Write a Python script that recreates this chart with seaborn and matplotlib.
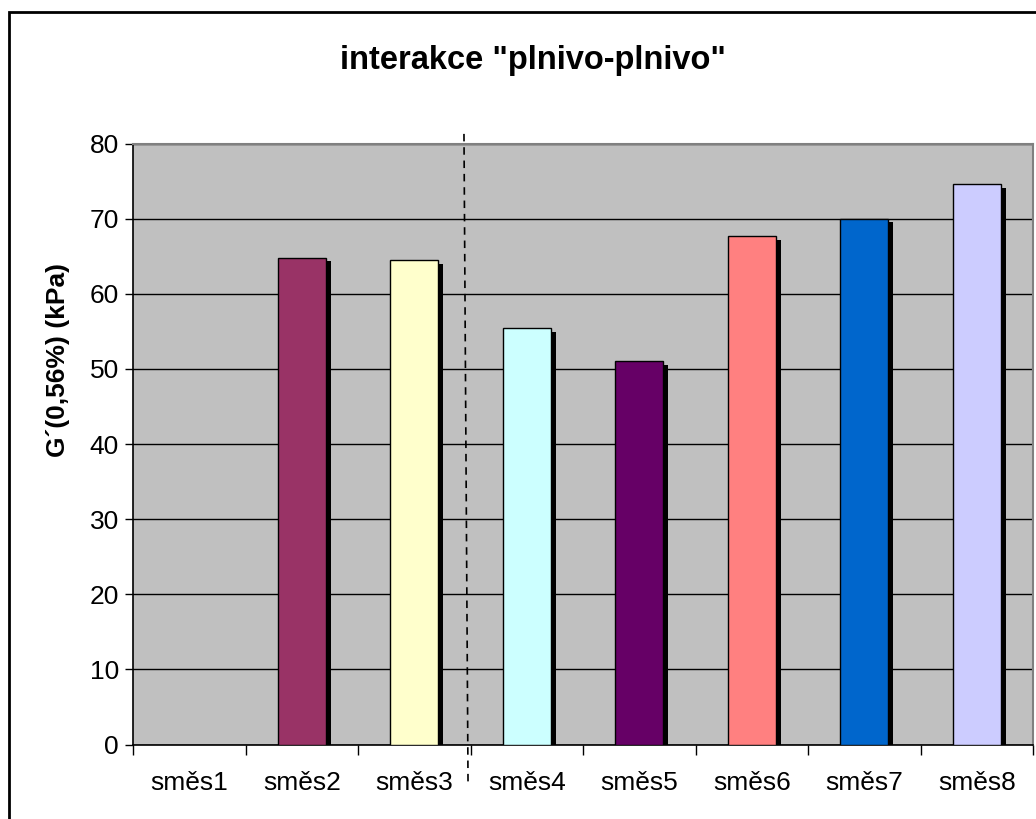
import numpy as np
import pandas as pd
import matplotlib
matplotlib.use("Agg")
import matplotlib.pyplot as plt
from matplotlib.patches import Rectangle
from matplotlib.transforms import blended_transform_factory
import seaborn as sns

# Data
mixes = ["směs1", "směs2", "směs3", "směs4", "směs5", "směs6", "směs7", "směs8"]
g_values = [np.nan, 64.8, 64.5, 55.4, 51.0, 67.7, 70.0, 74.6]
bar_colors = ["#9999FF", "#993366", "#FFFFCC", "#CCFFFF", "#660066", "#FF8080", "#0066CC", "#CCCCFF"]
y_ticks = [0, 10, 20, 30, 40, 50, 60, 70, 80]

title = 'interakce "plnivo-plnivo"'
y_label = "G´(0,56%) (kPa)"

sns.set_style("white")
plt.rcParams["font.family"] = ["Liberation Sans", "DejaVu Sans"]
plt.rcParams["text.color"] = "black"
plt.rcParams["axes.labelcolor"] = "black"
plt.rcParams["xtick.color"] = "black"
plt.rcParams["ytick.color"] = "black"

df = pd.DataFrame({"mix": mixes, "G": g_values})
palette = dict(zip(mixes, bar_colors))

W, H = 1036, 819
fig = plt.figure(figsize=(W / 100, H / 100), dpi=100)
fig.patch.set_facecolor("white")
ax = fig.add_axes([133 / W, 74.5 / H, 900 / W, 601 / H])
ax.set_facecolor("#C0C0C0")

sns.barplot(data=df, x="mix", y="G", hue="mix", order=mixes, hue_order=mixes,
            palette=palette, legend=False, width=0.43, saturation=1,
            edgecolor="black", linewidth=1.0, ax=ax, zorder=3)

# drop shadows behind each bar
dx, dy = 0.044, 0.5
for p in list(ax.patches):
    h = p.get_height()
    if not np.isfinite(h) or h <= 0:
        continue
    ax.add_patch(Rectangle((p.get_x() + dx, 0), p.get_width(), h - dy,
                           facecolor="black", edgecolor="none", zorder=2))

ax.set_xlim(-0.5, len(mixes) - 0.5)
ax.set_ylim(0, 80)
ax.set_yticks(y_ticks)
ax.set_yticklabels([str(v) for v in y_ticks])
ax.set_xticks(np.arange(len(mixes)))
ax.set_xticklabels(mixes)
ax.set_xticks(np.arange(len(mixes) + 1) - 0.5, minor=True)

ax.yaxis.grid(True, color="black", linewidth=1.0, zorder=1)
ax.set_axisbelow(True)

ax.tick_params(axis="y", which="major", direction="out", length=6, width=1,
               color="black", labelcolor="black", labelsize=19, pad=4, left=True)
ax.tick_params(axis="x", which="major", length=0, labelcolor="black",
               labelsize=19, pad=19)
ax.tick_params(axis="x", which="minor", direction="out", length=7, width=1,
               color="black", bottom=True)

for side in ["left", "bottom"]:
    ax.spines[side].set_color("black")
    ax.spines[side].set_linewidth(1.2)
for side in ["top", "right"]:
    ax.spines[side].set_visible(True)
    ax.spines[side].set_color("#808080")
    ax.spines[side].set_linewidth(1.5)

ax.set_xlabel("")
ax.set_ylabel(y_label, fontsize=19, fontweight="bold", color="black")
ax.yaxis.set_label_coords(-0.07, 0.64)

# dashed separator between the mix groups
tr = blended_transform_factory(ax.transData, ax.transAxes)
ax.plot([2.442, 2.478], [1.016, -0.062], transform=tr, clip_on=False,
        color="black", linewidth=1.2, linestyle=(0, (4.5, 3.5)), zorder=5)

fig.text(0.514, 1 - 61 / H, title, ha="center", va="center",
         fontsize=23.5, fontweight="bold", color="black")

# outer chart frame
fig.patches.append(Rectangle((9 / W, -0.1), 1.2, 1 - 12 / H + 0.1,
                             transform=fig.transFigure, fill=False,
                             edgecolor="black", linewidth=2.0))

fig.savefig("out.png", dpi=100)
